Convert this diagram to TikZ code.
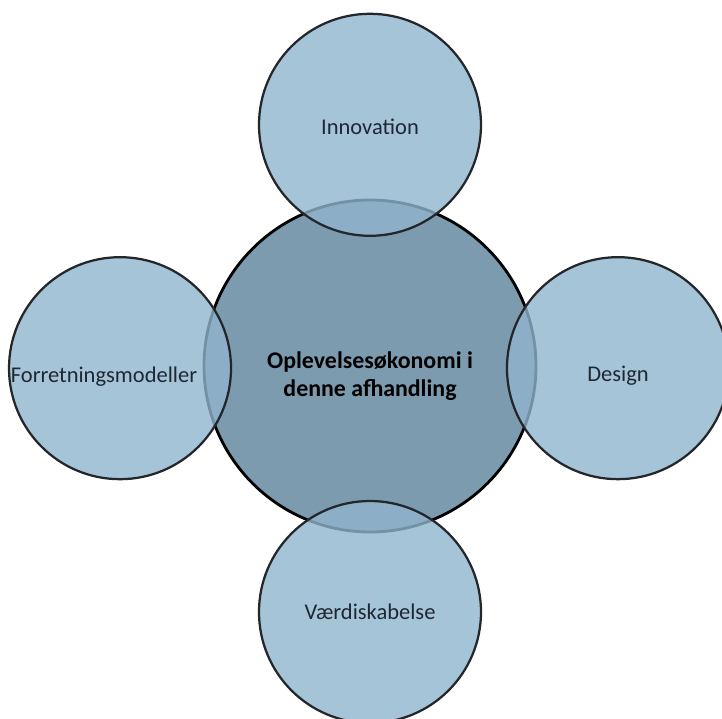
\documentclass[tikz,border=0pt]{standalone}
\usepackage{fontspec}
\setmainfont{Carlito}
\definecolor{hubfill}{RGB}{125,155,175}
\definecolor{petalfill}{RGB}{144,181,205}
\definecolor{petalline}{RGB}{35,38,42}
\definecolor{labeltext}{RGB}{30,40,50}
\tikzset{
  hub/.style={circle, draw=black, line width=2pt, fill=hubfill,
    minimum size=8.3cm, inner sep=0pt},
  hubtext/.style={align=center, inner sep=0pt,
    font=\fontsize{17}{20}\selectfont\bfseries},
  petal/.style={circle, draw=petalline, line width=1.6pt, fill=petalfill,
    fill opacity=0.8, text opacity=1, minimum size=5.55cm, inner sep=0pt},
  petaltext/.style={text=labeltext, inner sep=0pt,
    font=\fontsize{16}{19}\selectfont}
}
\begin{document}
\begin{tikzpicture}
  \useasboundingbox (-9.25,-8.8) rectangle (8.8,9.15);
  \node[hub, label={[hubtext, yshift=-0.25cm]center:Oplevelsesøkonomi i\\denne afhandling}] (hub) at (0,0) {};
  \draw
    (90:6.03) node[petal, label={[petaltext, yshift=-0.05cm]center:Innovation}] (innovation){}
    (180.5:6.25) node[petal, label={[petaltext, xshift=-0.4cm, yshift=-0.2cm]center:Forretningsmodeller}] (forretning){}
    (-0.5:6.2) node[petal, label={[petaltext, yshift=-0.2cm]center:Design}] (design){}
    (270:6.15) node[petal, label={[petaltext]center:Værdiskabelse}] (vaerdi){};
\end{tikzpicture}
\end{document}
